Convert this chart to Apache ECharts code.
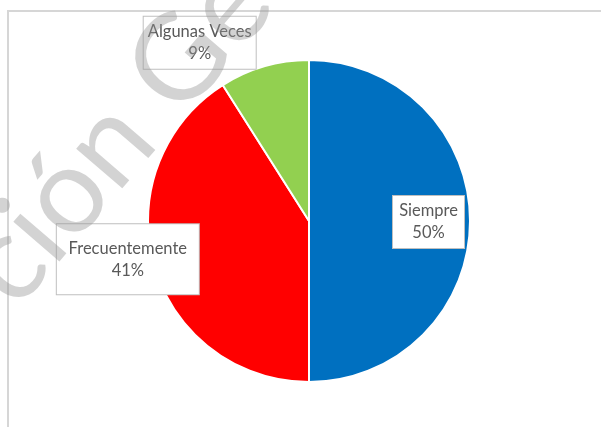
<!DOCTYPE html>
<html>
<head>
<meta charset="utf-8">
<script src="https://cdn.jsdelivr.net/npm/echarts@6/dist/echarts.min.js"></script>
<style>
  html, body { margin: 0; padding: 0; background: #ffffff; }
  #chart { width: 601px; height: 427px; }
</style>
</head>
<body>
<div id="chart"></div>
<script>
// Survey answers and their counts (shares of the total)
const categories = ['Siempre', 'Frecuentemente', 'Algunas Veces'];
const values = [50, 41, 9];
const colors = ['#0070C0', '#FF0000', '#92D050'];

// Label box widths and offsets from the slice's default inner position
const labelWidths = [71, 142, 112];
const labelShift = [[36, 1], [-101, 15], [-86, -98]];

const chart = echarts.init(document.getElementById('chart'), null, { renderer: 'canvas' });

const option = {
  animation: false,
  backgroundColor: '#ffffff',
  graphic: [
    {
      type: 'rect',
      z: 0,
      shape: { x: 8, y: 11, width: 700, height: 500 },
      style: { fill: 'none', stroke: '#d6d6d6', lineWidth: 2 }
    },
    {
      // faint diagonal watermark lettering
      type: 'text',
      z: 100,
      x: 118,
      y: 134,
      rotation: 0.86,
      style: {
        text: 'ción Ge',
        font: '400 120px Lato',
        fill: 'rgba(150,150,150,0.42)',
        textAlign: 'center',
        textVerticalAlign: 'middle'
      }
    }
  ],
  series: [
    {
      type: 'pie',
      center: [309, 221],
      radius: 161,
      startAngle: 90,
      clockwise: true,
      avoidLabelOverlap: false,
      percentPrecision: 0,
      itemStyle: { borderColor: '#ffffff', borderWidth: 2 },
      labelLine: { show: false },
      label: {
        show: true,
        position: 'inside',
        formatter: '{b}\n{d}%',
        fontFamily: 'Lato',
        fontSize: 16.5,
        lineHeight: 22,
        color: '#595959',
        backgroundColor: '#ffffff',
        borderColor: '#bfbfbf',
        borderWidth: 1,
        align: 'center',
        padding: [4, 0]
      },
      labelLayout: function (params) {
        const s = labelShift[params.dataIndex];
        return { dx: s[0], dy: s[1] };
      },
      emphasis: { disabled: true },
      data: categories.map((name, i) => ({
        name: name,
        value: values[i],
        itemStyle: { color: colors[i] },
        label: { width: labelWidths[i], padding: i === 1 ? [13, 0] : [4, 0] }
      }))
    }
  ]
};

chart.setOption(option);
</script>
</body>
</html>
